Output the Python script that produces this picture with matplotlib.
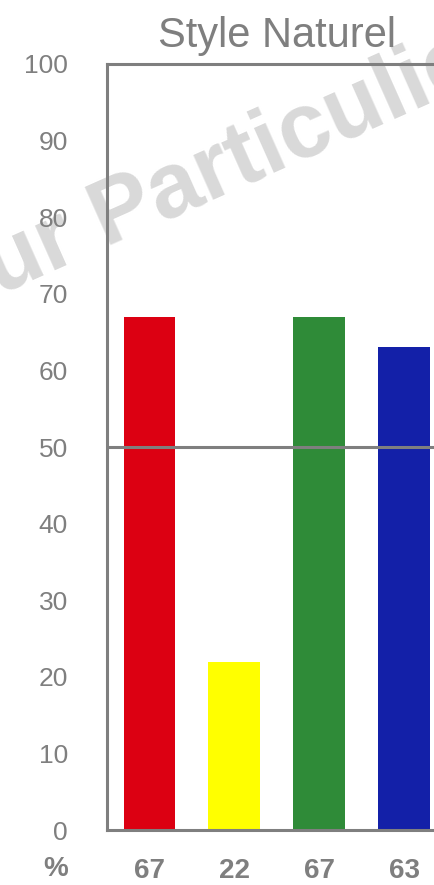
import matplotlib
matplotlib.use("Agg")
import matplotlib.pyplot as plt

# chart data
categories = ["Rouge", "Jaune", "Vert", "Bleu"]
values = [67, 22, 67, 63]
bar_colors = ["#DC0012", "#FFFF00", "#2F8B38", "#1320A8"]
y_ticks = [0, 10, 20, 30, 40, 50, 60, 70, 80, 90, 100]
title = "Style Naturel"
watermark = "Pour Particulier"
unit_label = "%"

GRAY = "#7F7F7F"
plt.rcParams["font.family"] = ["Liberation Sans", "DejaVu Sans"]

fig = plt.figure(figsize=(4.35, 8.85), dpi=100)
ax = fig.add_axes([0.246, 0.0621, 0.7804, 0.8656])
ax.set_facecolor("none")

# watermark behind the axes
fig.text(0.468, 0.769, watermark, fontsize=66, fontweight="bold",
         color="#D9D9D9", rotation=24, rotation_mode="anchor",
         ha="center", va="baseline", zorder=-1)

x = list(range(len(values)))
ax.bar(x, values, width=0.61, color=bar_colors, zorder=2)
ax.axhline(50, color=GRAY, lw=2.2, zorder=3)

ax.set_xlim(-0.5, len(values) - 0.5)
ax.set_ylim(0, 100)
ax.set_yticks(y_ticks)
ax.set_yticklabels([str(t) for t in y_ticks], fontsize=19, color=GRAY)
ax.set_xticks(x)
ax.set_xticklabels([str(v) for v in values], fontsize=20,
                   fontweight="bold", color=GRAY)
ax.tick_params(axis="y", length=0, pad=28)
ax.tick_params(axis="x", length=0, pad=20)

for side in ["left", "bottom", "top"]:
    ax.spines[side].set_color(GRAY)
    ax.spines[side].set_linewidth(2.2)
ax.spines["right"].set_visible(False)

ax.set_title(title, fontsize=30, color=GRAY, pad=12)

# unit label under the y axis
fig.text(56 / 435, 16 / 885, unit_label, fontsize=20, fontweight="bold",
         color=GRAY, ha="center", va="center")

fig.savefig("out.png", dpi=100)
